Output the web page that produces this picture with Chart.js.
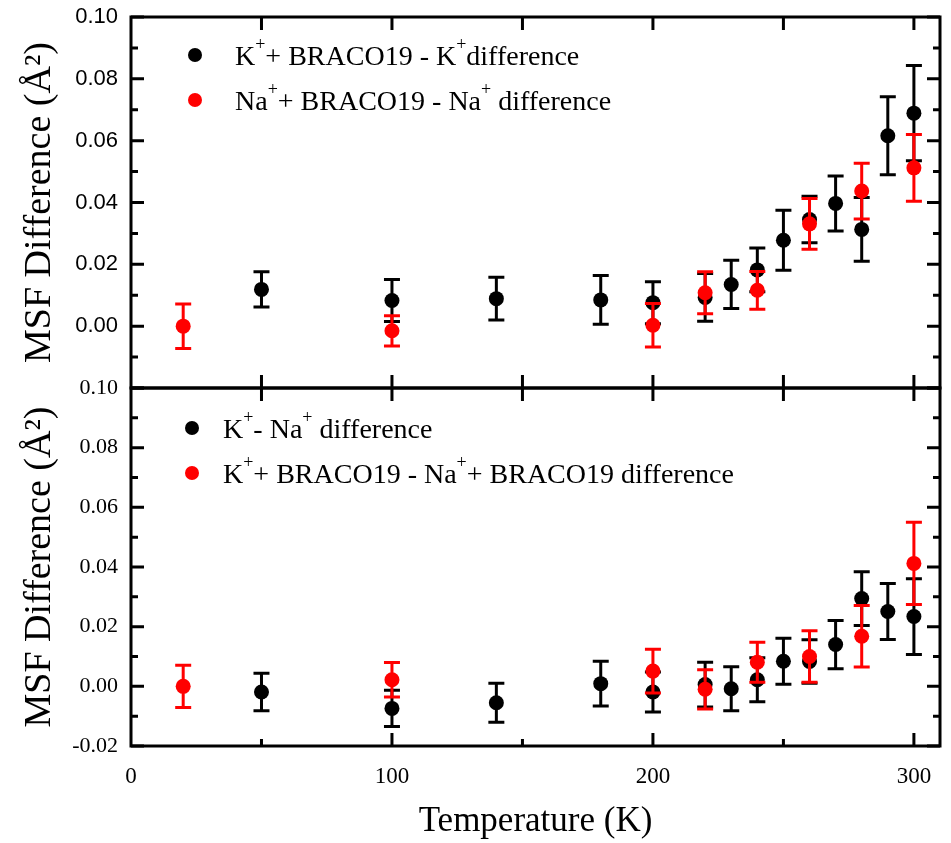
<!DOCTYPE html>
<html>
<head>
<meta charset="utf-8">
<script src="https://cdn.jsdelivr.net/npm/chart.js@4"></script>
<style>
  body { margin: 0; background: #fff; }
  canvas { display: block; }
</style>
</head>
<body>
<canvas id="msfChart" width="951" height="843"></canvas>
<script>
const RED = '#ff0000';
const BLACK = '#000000';
const SERIF = '"Liberation Serif", "Times New Roman", serif';
const SANS = '"Liberation Sans", Arial, sans-serif';

// x / y tick values
const tempTicks = [0, 100, 200, 300];
const msfTicks = [-0.02, 0.00, 0.02, 0.04, 0.06, 0.08, 0.10];

// top panel: K+ + BRACO19 - K+
const topKTemps = [50, 100, 140, 180, 200, 220, 230, 240, 250, 260, 270, 280, 290, 300];
const topKValues = [0.0119, 0.0083, 0.0089, 0.0085, 0.0076, 0.0093, 0.0135, 0.0182, 0.0278, 0.0345, 0.0397, 0.0313, 0.0616, 0.0689];
const topKErrors = [0.0057, 0.0068, 0.0069, 0.0079, 0.0068, 0.0077, 0.0078, 0.0071, 0.0097, 0.0075, 0.0089, 0.0103, 0.0126, 0.0154];

// top panel: Na+ + BRACO19 - Na+
const topNaTemps = [20, 100, 200, 220, 240, 260, 280, 300];
const topNaValues = [0.0000, -0.0015, 0.0003, 0.0108, 0.0116, 0.0331, 0.0437, 0.0512];
const topNaErrors = [0.0072, 0.0049, 0.0070, 0.0068, 0.0061, 0.0082, 0.0090, 0.0108];

// bottom panel: K+ - Na+
const botKNaTemps = [50, 100, 140, 180, 200, 220, 230, 240, 250, 260, 270, 280, 290, 300];
const botKNaValues = [-0.0019, -0.0074, -0.0055, 0.0009, -0.0019, 0.0006, -0.0008, 0.0022, 0.0084, 0.0083, 0.0140, 0.0294, 0.0251, 0.0234];
const botKNaErrors = [0.0063, 0.0061, 0.0065, 0.0075, 0.0067, 0.0075, 0.0074, 0.0074, 0.0077, 0.0073, 0.0081, 0.0090, 0.0094, 0.0127];

// bottom panel: K+ + BRACO19 - Na+ + BRACO19
const botBracoTemps = [20, 100, 200, 220, 240, 260, 280, 300];
const botBracoValues = [0.0000, 0.0022, 0.0051, -0.0010, 0.0081, 0.0100, 0.0168, 0.0412];
const botBracoErrors = [0.0071, 0.0058, 0.0073, 0.0066, 0.0067, 0.0086, 0.0103, 0.0138];

const toPoints = (xs, ys) => xs.map((x, i) => ({ x: x, y: ys[i] }));

function makeSet(label, xs, ys, errs, color, axis, order) {
    return {
        label: label,
        data: toPoints(xs, ys),
        errors: errs,
        yAxisID: axis,
        order: order,
        showLine: false,
        pointRadius: 7.5,
        pointHoverRadius: 7.5,
        pointBackgroundColor: color,
        pointBorderWidth: 0,
        borderColor: color,
        backgroundColor: color
    };
}

// vertical error bars, drawn under each dataset's own points
const errorBars = {
    id: 'errorBars',
    beforeDatasetDraw(chart, args) {
        const ds = chart.data.datasets[args.index];
        const xs = chart.scales[args.meta.xAxisID];
        const ys = chart.scales[args.meta.yAxisID];
        const ctx = chart.ctx;
        ctx.save();
        ctx.strokeStyle = ds.borderColor;
        ctx.lineWidth = 3;
        ctx.beginPath();
        ds.data.forEach((p, i) => {
            const px = xs.getPixelForValue(p.x);
            const hi = ys.getPixelForValue(p.y + ds.errors[i]);
            const lo = ys.getPixelForValue(p.y - ds.errors[i]);
            ctx.moveTo(px, hi); ctx.lineTo(px, lo);
            ctx.moveTo(px - 8, hi); ctx.lineTo(px + 8, hi);
            ctx.moveTo(px - 8, lo); ctx.lineTo(px + 8, lo);
        });
        ctx.stroke();
        ctx.restore();
    }
};

// boxes round each panel with inward ticks
const frame = {
    id: 'frame',
    afterDraw(chart) {
        const { ctx } = chart;
        const x = chart.scales.x;
        ctx.save();
        ctx.strokeStyle = BLACK;
        ctx.lineWidth = 3;
        ['yTop', 'yBot'].forEach((id, p) => {
            const y = chart.scales[id];
            ctx.strokeRect(x.left, y.top, x.right - x.left, y.bottom - y.top);
            ctx.beginPath();
            for (let k = -2; k <= 10; k++) {
                const py = y.getPixelForValue(k / 100);
                const len = k % 2 === 0 ? 13 : 7;
                ctx.moveTo(x.left, py); ctx.lineTo(x.left + len, py);
                ctx.moveTo(x.right, py); ctx.lineTo(x.right - len, py);
            }
            for (let t = 50; t <= 300; t += 50) {
                const px = x.getPixelForValue(t);
                const botLen = (p === 1 && t % 100) ? 7 : 13;
                ctx.moveTo(px, y.top); ctx.lineTo(px, y.top + 13);
                ctx.moveTo(px, y.bottom); ctx.lineTo(px, y.bottom - botLen);
            }
            ctx.stroke();
        });
        ctx.restore();
    }
};

// in-panel legends with superscripts
function drawRich(ctx, x, y, parts) {
    parts.forEach(p => {
        const sup = p.charAt(0) === '^';
        const t = sup ? p.slice(1) : p;
        ctx.font = (sup ? '18px ' : '28px ') + SERIF;
        ctx.fillText(t, x, sup ? y - 15 : y);
        x += ctx.measureText(t).width;
    });
}

const panelLegends = {
    id: 'panelLegends',
    afterDraw(chart) {
        const ctx = chart.ctx;
        const entries = [
            { mx: 195, my: 55, tx: 235, color: BLACK, parts: ['K', '^+', '+ BRACO19 - K', '^+', 'difference'] },
            { mx: 195, my: 100, tx: 235, color: RED, parts: ['Na', '^+', '+ BRACO19 - Na', '^+', ' difference'] },
            { mx: 192, my: 428, tx: 223, color: BLACK, parts: ['K', '^+', '- Na', '^+', ' difference'] },
            { mx: 192, my: 473, tx: 223, color: RED, parts: ['K', '^+', '+ BRACO19 - Na', '^+', '+ BRACO19 difference'] }
        ];
        ctx.save();
        ctx.textBaseline = 'alphabetic';
        ctx.textAlign = 'left';
        entries.forEach(e => {
            ctx.fillStyle = e.color;
            ctx.beginPath();
            ctx.arc(e.mx, e.my, 7, 0, Math.PI * 2);
            ctx.fill();
            ctx.fillStyle = BLACK;
            drawRich(ctx, e.tx, e.my + 10, e.parts);
        });
        ctx.restore();
    }
};

const msfLabel = v => Math.abs(v) < 1e-9 ? '0.00' : v.toFixed(2);

function yAxis(font, stackWeight, hideBottom) {
    return {
        type: 'linear',
        position: 'left',
        stack: 'panels',
        stackWeight: stackWeight,
        min: -0.02,
        max: 0.10,
        afterBuildTicks: s => { s.ticks = msfTicks.map(v => ({ value: v })); },
        afterFit: s => {
            s.width = 131;
            s.paddingTop = 0;
            s.paddingBottom = 0;
        },
        grid: { display: false, drawTicks: false },
        border: { display: false },
        ticks: {
            color: BLACK,
            padding: 13,
            font: { family: font, size: 22 },
            callback: v => (hideBottom && v < -0.015) ? '' : msfLabel(v)
        },
        title: {
            display: true,
            text: 'MSF Difference (Å²)',
            color: BLACK,
            font: { family: SERIF, size: 38 },
            padding: { top: 17, bottom: 0 }
        }
    };
}

new Chart(document.getElementById('msfChart'), {
    type: 'scatter',
    data: {
        datasets: [
            makeSet('K+ + BRACO19 - K+ difference', topKTemps, topKValues, topKErrors, BLACK, 'yTop', 1),
            makeSet('Na+ + BRACO19 - Na+ difference', topNaTemps, topNaValues, topNaErrors, RED, 'yTop', 0),
            makeSet('K+ - Na+ difference', botKNaTemps, botKNaValues, botKNaErrors, BLACK, 'yBot', 1),
            makeSet('K+ + BRACO19 - Na+ + BRACO19 difference', botBracoTemps, botBracoValues, botBracoErrors, RED, 'yBot', 0)
        ]
    },
    options: {
        responsive: false,
        animation: false,
        devicePixelRatio: 1,
        layout: { padding: { left: 0, right: 11, top: 17, bottom: 0 } },
        plugins: { legend: { display: false }, tooltip: { enabled: false } },
        scales: {
            // later-defined stacked axis sits on top
            yBot: yAxis(SERIF, 358, false),
            yTop: yAxis(SANS, 371, true),
            x: {
                type: 'linear',
                position: 'bottom',
                min: 0,
                max: 310,
                afterBuildTicks: s => { s.ticks = tempTicks.map(v => ({ value: v })); },
                afterFit: s => { s.height = 97; },
                grid: { display: false, drawTicks: false },
                border: { display: false },
                ticks: {
                    color: BLACK,
                    padding: 17,
                    maxRotation: 0,
                    font: { family: SERIF, size: 23 }
                },
                title: {
                    display: true,
                    text: 'Temperature (K)',
                    color: BLACK,
                    font: { family: SERIF, size: 35 },
                    padding: { top: 0, bottom: 0 }
                }
            }
        }
    },
    plugins: [errorBars, frame, panelLegends]
});
</script>
</body>
</html>
